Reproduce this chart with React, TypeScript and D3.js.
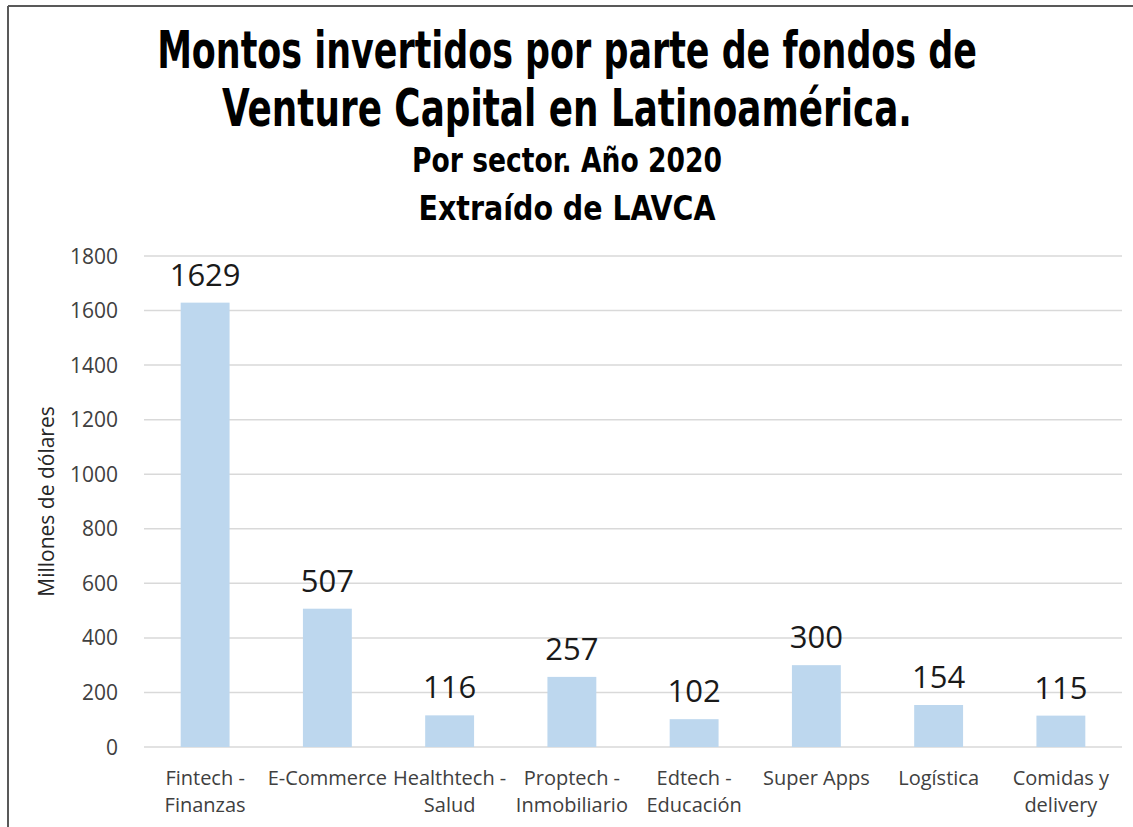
import * as d3 from 'd3';
import { useEffect, useRef } from 'react';

const sectors = [
  ['Fintech -', 'Finanzas'],
  ['E-Commerce'],
  ['Healthtech -', 'Salud'],
  ['Proptech -', 'Inmobiliario'],
  ['Edtech -', 'Educación'],
  ['Super Apps'],
  ['Logística'],
  ['Comidas y', 'delivery'],
];
const amounts = [1629, 507, 116, 257, 102, 300, 154, 115];
const yTicks = [0, 200, 400, 600, 800, 1000, 1200, 1400, 1600, 1800];

const titleLines = [
  'Montos invertidos por parte de fondos de',
  'Venture Capital en Latinoamérica.',
];
const subtitleLines = ['Por sector. Año 2020', 'Extraído de LAVCA'];

const App = () => {
  const ref = useRef(null);

  useEffect(() => {
    const svg = d3.select(ref.current);
    svg.selectAll('*').remove();

    const W = 1133;
    const H = 827;
    svg.attr('width', W).attr('height', H);

    svg.append('rect').attr('width', W).attr('height', H).attr('fill', '#fff');

    // frame (only top and left edges visible)
    svg.append('line').attr('x1', 8).attr('x2', W).attr('y1', 6).attr('y2', 6)
      .attr('stroke', '#595959').attr('stroke-width', 2);
    svg.append('line').attr('x1', 8).attr('x2', 8).attr('y1', 6).attr('y2', H)
      .attr('stroke', '#595959').attr('stroke-width', 2);

    // titles: condensed bold, squeezed horizontally to the reference widths
    const titleFont = "'DejaVu Sans Condensed', 'DejaVu Sans', sans-serif";
    const titleTxt = [
      { t: titleLines[0], y: 68, size: 52, len: 820 },
      { t: titleLines[1], y: 126, size: 52, len: 690 },
      { t: subtitleLines[0], y: 172, size: 33, len: 310 },
      { t: subtitleLines[1], y: 220, size: 33, len: 297 },
    ];
    svg.selectAll('.title')
      .data(titleTxt)
      .enter()
      .append('text')
      .attr('class', 'title')
      .attr('text-anchor', 'middle')
      .attr('font-family', titleFont)
      .attr('font-weight', 'bold')
      .attr('font-size', d => d.size)
      .attr('fill', '#000')
      .text(d => d.t)
      .each(function (d) {
        const natural = this.getComputedTextLength() || d.len;
        const sx = d.len / natural;
        d3.select(this).attr('transform', `translate(567,${d.y}) scale(${sx},1)`);
      });

    const left = 144;
    const right = 1122;
    const top = 256;
    const bottom = 747;
    const font = "'Open Sans', sans-serif";

    const x = d3.scaleBand()
      .domain(sectors.map((_, i) => String(i)))
      .range([left, right])
      .paddingInner(0.6)
      .paddingOuter(0.3);

    const y = d3.scaleLinear().domain([0, 1800]).range([bottom, top]);

    // gridlines
    svg.append('g')
      .selectAll('line')
      .data(yTicks)
      .enter()
      .append('line')
      .attr('x1', left)
      .attr('x2', right)
      .attr('y1', d => y(d))
      .attr('y2', d => y(d))
      .attr('stroke', '#d9d9d9')
      .attr('stroke-width', 1.5);

    // y tick labels
    svg.append('g')
      .selectAll('text')
      .data(yTicks)
      .enter()
      .append('text')
      .attr('x', 118)
      .attr('y', d => y(d))
      .attr('dy', '0.36em')
      .attr('text-anchor', 'end')
      .attr('font-family', font)
      .attr('font-size', 21)
      .attr('fill', '#404040')
      .text(d => d);

    svg.append('text')
      .attr('transform', `translate(54,${(top + bottom) / 2}) rotate(-90)`)
      .attr('text-anchor', 'middle')
      .attr('font-family', font)
      .attr('font-size', 21)
      .attr('fill', '#262626')
      .text('Millones de dólares');

    // bars
    svg.append('g')
      .selectAll('rect')
      .data(amounts)
      .enter()
      .append('rect')
      .attr('x', (_, i) => x(String(i)))
      .attr('y', d => y(d))
      .attr('width', x.bandwidth())
      .attr('height', d => y(0) - y(d))
      .attr('fill', '#bdd7ee');

    // value labels
    svg.append('g')
      .selectAll('text')
      .data(amounts)
      .enter()
      .append('text')
      .attr('x', (_, i) => x(String(i)) + x.bandwidth() / 2)
      .attr('y', d => y(d) - 17)
      .attr('text-anchor', 'middle')
      .attr('font-family', font)
      .attr('font-size', 31)
      .attr('fill', '#1a1a1a')
      .text(d => d);

    // category labels
    const cat = svg.append('g')
      .selectAll('text')
      .data(sectors)
      .enter()
      .append('text')
      .attr('x', (_, i) => x(String(i)) + x.bandwidth() / 2)
      .attr('y', 785)
      .attr('text-anchor', 'middle')
      .attr('font-family', font)
      .attr('font-size', 20)
      .attr('fill', '#404040');
    cat.each(function (d) {
      const t = d3.select(this);
      d.forEach((line, j) => {
        t.append('tspan')
          .attr('x', t.attr('x'))
          .attr('dy', j === 0 ? 0 : 27)
          .text(line);
      });
    });
  }, []);

  return <svg ref={ref} style={{ position: 'absolute', left: 0, top: 0 }}></svg>;
};

export default App;
